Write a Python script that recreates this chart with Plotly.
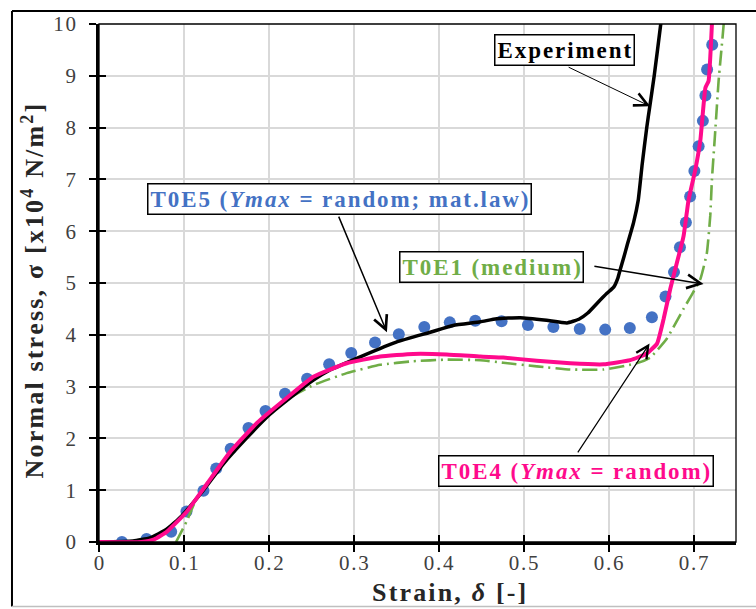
import plotly.graph_objects as go

# ---------------- data ----------------
exp_x = [0.0, 0.04, 0.06, 0.08, 0.097, 0.123, 0.146, 0.174, 0.201, 0.225, 0.252, 0.272, 0.311,
         0.35, 0.39, 0.417, 0.449, 0.468, 0.496, 0.527, 0.551, 0.565, 0.5755, 0.586, 0.598,
         0.606, 0.611, 0.6137, 0.618, 0.6215, 0.6293, 0.6349, 0.6396, 0.6449, 0.6484, 0.6537,
         0.6614, 0.664]
exp_y = [0.0, 0.02, 0.08, 0.25, 0.5, 1.0, 1.5, 2.01, 2.46, 2.78, 3.12, 3.32, 3.6,
         3.86, 4.05, 4.18, 4.25, 4.31, 4.33, 4.28, 4.23, 4.3, 4.42, 4.6, 4.8,
         4.92, 5.1, 5.26, 5.5, 5.71, 6.16, 6.6, 7.3, 8.0, 8.4, 9.0,
         10.0, 10.4]

t0e4_x = [0.0, 0.05, 0.065, 0.08, 0.103, 0.127, 0.154, 0.186, 0.221, 0.2524, 0.2917, 0.331,
          0.37, 0.4095, 0.449, 0.476, 0.5155, 0.5548, 0.594, 0.6254, 0.645, 0.657, 0.6647,
          0.6725, 0.6804, 0.6882, 0.692, 0.6941, 0.702, 0.708, 0.714, 0.7177, 0.7216, 0.723]
t0e4_y = [0.0, 0.0, 0.05, 0.2, 0.58, 1.12, 1.73, 2.3, 2.78, 3.19, 3.45, 3.58,
          3.63, 3.62, 3.58, 3.56, 3.5, 3.45, 3.43, 3.51, 3.64, 3.83, 4.3,
          4.88, 5.39, 5.9, 6.35, 6.6, 7.18, 7.75, 8.77, 8.9, 9.98, 10.5]

t0e1_x = [0.0907, 0.103, 0.115, 0.13, 0.154, 0.186, 0.221, 0.2524, 0.2917, 0.331, 0.37,
          0.4095, 0.449, 0.476, 0.5155, 0.5548, 0.594, 0.633, 0.649, 0.6687, 0.6882, 0.7079,
          0.7157, 0.7197, 0.7216, 0.7256, 0.7295, 0.7354, 0.737]
t0e1_y = [0.0, 0.39, 0.85, 1.2, 1.73, 2.28, 2.75, 3.03, 3.26, 3.42, 3.49,
          3.52, 3.51, 3.46, 3.39, 3.33, 3.33, 3.45, 3.56, 3.93, 4.5, 5.07,
          5.58, 6.3, 6.98, 7.94, 8.9, 9.98, 10.5]

t0e5_x = [0.027, 0.056, 0.085, 0.103, 0.123, 0.138, 0.155, 0.176, 0.196, 0.219, 0.245, 0.271,
          0.297, 0.325, 0.353, 0.383, 0.413, 0.443, 0.474, 0.505, 0.535, 0.566, 0.596, 0.625,
          0.651, 0.667, 0.677, 0.684, 0.691, 0.696, 0.701, 0.706, 0.711, 0.714, 0.716, 0.722]
t0e5_y = [0.0, 0.06, 0.2, 0.59, 0.99, 1.42, 1.8, 2.2, 2.53, 2.86, 3.15, 3.43,
          3.65, 3.85, 4.01, 4.15, 4.24, 4.27, 4.26, 4.19, 4.15, 4.11, 4.1, 4.13,
          4.34, 4.74, 5.21, 5.69, 6.17, 6.67, 7.16, 7.64, 8.13, 8.62, 9.12, 9.6]

x_ticks = [0, 0.1, 0.2, 0.3, 0.4, 0.5, 0.6, 0.7]
x_ticklabels = ["0", "0.1", "0.2", "0.3", "0.4", "0.5", "0.6", "0.7"]
y_ticks = [0, 1, 2, 3, 4, 5, 6, 7, 8, 9, 10]
y_ticklabels = ["0", "1", "2", "3", "4", "5", "6", "7", "8", "9", "10"]

# ---------------- styling helpers ----------------
SERIF = "Liberation Serif, Times New Roman, serif"
HS = "\u200a"   # hair space, emulates the wide letter spacing
BLUE, GREEN, PINK = "#4472C4", "#70AD47", "#FF0A8C"


def spaced(parts, ch=HS):
    out = []
    for text, tag in parts:
        s = ch.join(text)
        out.append(f"<{tag}>{s}</{tag}>" if tag else s)
    return ch.join(out)


fig = go.Figure()
fig.add_trace(go.Scatter(x=t0e5_x, y=t0e5_y, mode="markers",
                         marker=dict(color=BLUE, size=12, line=dict(width=0))))
fig.add_trace(go.Scatter(x=t0e1_x, y=t0e1_y, mode="lines",
                         line=dict(color=GREEN, width=2.6, dash="15px,5px,2px,5px",
                                   shape="spline", smoothing=0.4)))
fig.add_trace(go.Scatter(x=exp_x, y=exp_y, mode="lines",
                         line=dict(color="black", width=3.5, shape="spline", smoothing=0.4)))
fig.add_trace(go.Scatter(x=t0e4_x, y=t0e4_y, mode="lines",
                         line=dict(color=PINK, width=4, shape="spline", smoothing=0.4)))
# helper trace so the overlay axes (inner half of the crossing ticks) exist
fig.add_trace(go.Scatter(x=[None], y=[None], xaxis="x2", yaxis="y2", hoverinfo="skip"))

tickfont = dict(family=SERIF, size=21, color="#404040")
xt = [HS.join(s) for s in x_ticklabels]
yt = [HS.join(s) for s in y_ticklabels]

fig.update_layout(
    width=756, height=609,
    margin=dict(l=99, r=20, t=19, b=67),
    paper_bgcolor="white", plot_bgcolor="white",
    showlegend=False,
    xaxis=dict(range=[0, 0.75], tickvals=x_ticks, ticktext=xt, tickfont=tickfont,
               showgrid=True, gridcolor="#D9D9D9", gridwidth=1.5, zeroline=False,
               showline=True, linecolor="black", linewidth=2.5,
               ticks="outside", ticklen=7, tickwidth=2, tickcolor="black",
               ticklabelstandoff=-7),
    yaxis=dict(range=[0, 10], tickvals=y_ticks, ticktext=yt, tickfont=tickfont,
               showgrid=True, gridcolor="#D9D9D9", gridwidth=1.5, zeroline=False,
               showline=True, linecolor="black", linewidth=2.5,
               ticks="outside", ticklen=7, tickwidth=2, tickcolor="black",
               ticklabelstandoff=9),
    xaxis2=dict(range=[0, 0.75], overlaying="x", anchor="y2", tickvals=x_ticks,
                showticklabels=False, showgrid=False, zeroline=False, showline=False,
                ticks="inside", ticklen=7, tickwidth=2, tickcolor="black"),
    yaxis2=dict(range=[0, 10], overlaying="y", anchor="x2", side="left", tickvals=y_ticks,
                showticklabels=False, showgrid=False, zeroline=False, showline=False,
                ticks="inside", ticklen=7, tickwidth=2, tickcolor="black"),
)

# plot-area thin border and outer chart frame
fig.add_shape(type="rect", xref="paper", yref="paper", x0=0, x1=1, y0=0, y1=1,
              line=dict(color="black", width=1.3), layer="above")
fx0, fy1, fy0, fx1 = -0.1366, 1.0249, -0.1243, 1.05
fig.add_shape(type="line", xref="paper", yref="paper", x0=fx0, x1=fx0, y0=fy0, y1=fy1,
              line=dict(color="black", width=2))
fig.add_shape(type="line", xref="paper", yref="paper", x0=fx0, x1=fx1, y0=fy1, y1=fy1,
              line=dict(color="black", width=2))
fig.add_shape(type="line", xref="paper", yref="paper", x0=fx0, x1=fx1, y0=fy0, y1=fy0,
              line=dict(color="#BFBFBF", width=1.5))

# axis titles
fig.add_annotation(xref="paper", yref="paper", x=-0.1036, y=0.4837, textangle=-90,
                   xanchor="center", yanchor="middle", showarrow=False,
                   text="<b>" + spaced([("Normal stress, σ [x10", None), ("4", "sup"),
                                        (" N/m", None), ("2", "sup"), ("]", None)]) + "</b>",
                   font=dict(family=SERIF, size=26, color="#262626"))
fig.add_annotation(xref="paper", yref="paper", x=0.5502, y=-0.0975,
                   xanchor="center", yanchor="middle", showarrow=False,
                   text="<b>" + spaced([("Strain, ", None), ("δ", "i"), (" [-]", None)]) + "</b>",
                   font=dict(family=SERIF, size=26, color="#262626"))

# labelled boxes
boxes = [
    (0.5483, 9.50, spaced([("Experiment", None)]), "black"),
    (0.2827, 6.625, spaced([("T0E5 (", None), ("Ymax", "i"), (" = random; mat.law)", None)]), BLUE),
    (0.4623, 5.306, spaced([("T0E1 (medium)", None)]), GREEN),
    (0.5618, 1.367, spaced([("T0E4 (", None), ("Ymax", "i"), (" = random)", None)]), PINK),
]
for bx, by, txt, col in boxes:
    fig.add_annotation(x=bx, y=by, xref="x", yref="y", showarrow=False,
                       xanchor="center", yanchor="middle",
                       text="<b>" + txt + "</b>",
                       font=dict(family=SERIF, size=23, color=col),
                       bgcolor="white", bordercolor="black", borderwidth=1.5, borderpad=2)

# arrows (tail -> tip)
arrows = [
    (0.5512, 9.18, 0.649, 8.41, 1.0, 2.6),
    (0.2815, 6.31, 0.3390, 4.05, 1.5, 1.8),
    (0.5815, 5.33, 0.7118, 4.98, 1.5, 1.8),
    (0.5626, 1.70, 0.6482, 3.83, 1.2, 2.0),
]
for ax_, ay_, x_, y_, w, s in arrows:
    fig.add_annotation(x=x_, y=y_, ax=ax_, ay=ay_, xref="x", yref="y", axref="x", ayref="y",
                       text="", showarrow=True, arrowhead=5, arrowwidth=w, arrowsize=s,
                       arrowcolor="black", standoff=0, startstandoff=0)

fig.write_html("out.html")
